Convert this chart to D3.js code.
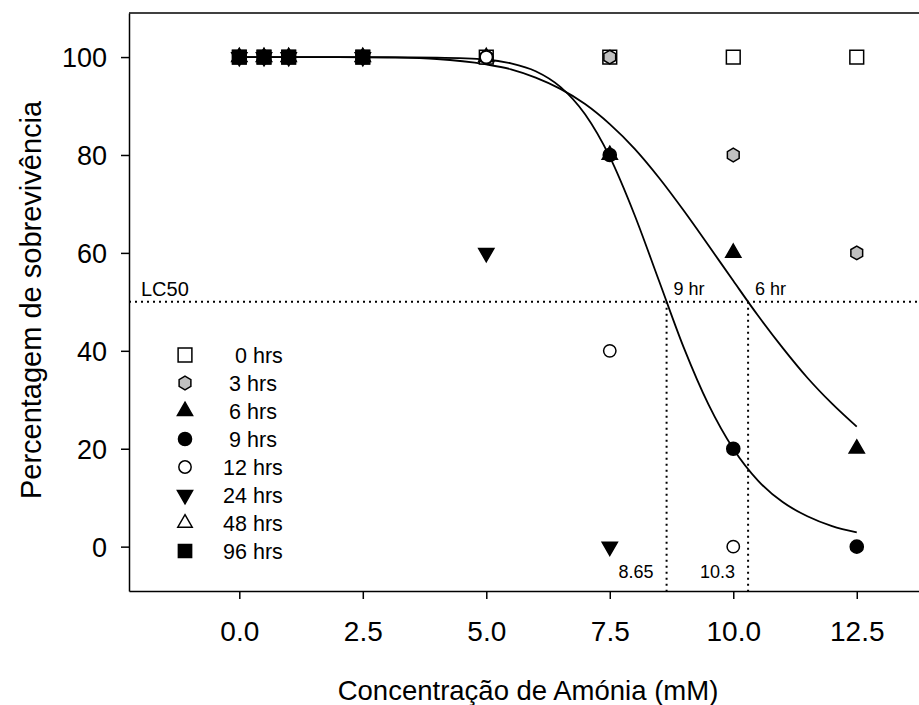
<!DOCTYPE html>
<html>
<head>
<meta charset="utf-8">
<script src="https://cdn.jsdelivr.net/npm/d3@7"></script>
<style>
  html, body { margin: 0; padding: 0; background: #fff; }
  svg { display: block; font-family: "Liberation Sans", Arial, sans-serif; }
</style>
</head>
<body>
<svg id="chart" width="919" height="705"></svg>
<script>
// ---------- data ----------
const xTicks = [0, 2.5, 5, 7.5, 10, 12.5];
const yTicks = [0, 20, 40, 60, 80, 100];
const seriesNames = ["0 hrs", "3 hrs", "6 hrs", "9 hrs", "12 hrs", "24 hrs", "48 hrs", "96 hrs"];

const conc0  = [0, 0.5, 1, 2.5, 5, 7.5, 10, 12.5];
const surv0  = [100, 100, 100, 100, 100, 100, 100, 100];
const conc3  = [0, 0.5, 1, 2.5, 5, 7.5, 10, 12.5];
const surv3  = [100, 100, 100, 100, 100, 100, 80, 60];
const conc6  = [0, 0.5, 1, 2.5, 5, 7.5, 10, 12.5];
const surv6  = [100, 100, 100, 100, 100, 80, 60, 20];
const conc9  = [0, 0.5, 1, 2.5, 5, 7.5, 10, 12.5];
const surv9  = [100, 100, 100, 100, 100, 80, 20, 0];
const conc12 = [0, 0.5, 1, 2.5, 5, 7.5, 10];
const surv12 = [100, 100, 100, 100, 100, 40, 0];
const conc24 = [0, 0.5, 1, 2.5, 5, 7.5];
const surv24 = [100, 100, 100, 100, 60, 0];
const conc48 = [0, 0.5, 1, 2.5];
const surv48 = [100, 100, 100, 100];
const conc96 = [0, 0.5, 1, 2.5];
const surv96 = [100, 100, 100, 100];

// fitted curves
const fitConc = [0, 2, 3, 4, 5, 5.5, 6, 6.5, 7, 7.5, 8, 8.5, 9, 9.5, 10, 10.5, 11, 11.5, 12, 12.5];
const fit9hr  = [100, 100, 100, 99.9, 99.5, 98.7, 97.1, 93.9, 88.3, 79.6, 67.8, 54.2, 40.6, 29.0, 20.0, 13.5, 9.1, 6.2, 4.2, 2.9];
const fit6hr  = [100, 100, 99.9, 99.6, 98.5, 97.5, 95.8, 93.5, 90.4, 86.3, 81.3, 75.3, 68.6, 61.5, 54.3, 47.2, 40.6, 34.5, 29.2, 24.5];

const lc50Value = 50;
const lc50Conc = [8.65, 10.3];
const lc50ConcLabels = ["8.65", "10.3"];
const lc50CurveLabels = ["9 hr", "6 hr"];

// ---------- layout ----------
const svg = d3.select("#chart");
const L = 129, R = 919, T = 13, B = 591;
const x = d3.scaleLinear().domain([-2.233, 13.76]).range([L, R]);
const y = d3.scaleLinear().domain([-9.06, 109.0]).range([B, T]);

// hexagon symbol (pointy top)
const symbolHexagon = {
  draw(ctx, size) {
    const r = Math.sqrt(size / (1.5 * Math.sqrt(3)));
    for (let i = 0; i < 6; i++) {
      const a = -Math.PI / 2 + i * Math.PI / 3;
      const px = r * Math.cos(a), py = r * Math.sin(a);
      if (i === 0) ctx.moveTo(px, py); else ctx.lineTo(px, py);
    }
    ctx.closePath();
  }
};
const symbolTriDown = {
  draw(ctx, size) {
    const s = Math.sqrt(size / (Math.sqrt(3) / 4));
    const h = s * Math.sqrt(3) / 2;
    ctx.moveTo(0, h * 2 / 3);
    ctx.lineTo(s / 2, -h / 3);
    ctx.lineTo(-s / 2, -h / 3);
    ctx.closePath();
  }
};

const styles = [
  { type: d3.symbolSquare,   size: 190, fill: "#fff" },
  { type: symbolHexagon,     size: 120, fill: "#c0c0c0" },
  { type: d3.symbolTriangle, size: 100, fill: "#000" },
  { type: d3.symbolCircle,   size: 135, fill: "#000" },
  { type: d3.symbolCircle,   size: 120, fill: "#fff" },
  { type: symbolTriDown,     size: 100, fill: "#000" },
  { type: d3.symbolTriangle, size: 90,  fill: "#fff" },
  { type: d3.symbolSquare,   size: 175, fill: "#000" }
];
const seriesData = [
  [conc0, surv0], [conc3, surv3], [conc6, surv6], [conc9, surv9],
  [conc12, surv12], [conc24, surv24], [conc48, surv48], [conc96, surv96]
];

// top frame line
svg.append("line").attr("x1", L).attr("x2", R).attr("y1", T).attr("y2", T)
  .attr("stroke", "#000").attr("stroke-width", 1.5);

// axes
const xAxis = d3.axisBottom(x).tickValues(xTicks).tickFormat(d3.format(".1f"))
  .tickSizeInner(8).tickSizeOuter(0).tickPadding(22);
const yAxis = d3.axisLeft(y).tickValues(yTicks).tickFormat(d3.format("d"))
  .tickSizeInner(8).tickSizeOuter(0).tickPadding(14);

const gx = svg.append("g").attr("transform", `translate(0,${B})`).call(xAxis);
const gy = svg.append("g").attr("transform", `translate(${L},0)`).call(yAxis);
[gx, gy].forEach(g => {
  g.select(".domain").attr("stroke", "#000").attr("stroke-width", 1.5);
  g.selectAll(".tick line").attr("stroke", "#000").attr("stroke-width", 1.5);
  g.selectAll(".tick text").attr("fill", "#000").attr("font-family", "Liberation Sans, Arial, sans-serif");
});
gx.selectAll(".tick text").attr("font-size", 28);
gy.selectAll(".tick text").attr("font-size", 27).attr("dy", "0.35em");

// axis titles
svg.append("text").attr("x", 528).attr("y", 700)
  .attr("text-anchor", "middle").attr("font-size", 27.5).text("Concentração de Amónia (mM)");
svg.append("text").attr("transform", `translate(41,300) rotate(-90)`)
  .attr("text-anchor", "middle").attr("font-size", 29).text("Percentagem de sobrevivência");

// LC50 reference lines
const dotted = sel => sel.attr("stroke", "#000").attr("stroke-width", 2).attr("stroke-dasharray", "2,4").attr("fill", "none");
svg.append("line").attr("x1", L).attr("x2", R).attr("y1", y(lc50Value)).attr("y2", y(lc50Value)).call(dotted);
lc50Conc.forEach(c => {
  svg.append("line").attr("x1", x(c)).attr("x2", x(c)).attr("y1", y(lc50Value)).attr("y2", B).call(dotted);
});
svg.append("text").attr("x", 141).attr("y", y(lc50Value) - 6).attr("font-size", 20).text("LC50");
lc50Conc.forEach((c, i) => {
  svg.append("text").attr("x", x(c) + 7).attr("y", y(lc50Value) - 7).attr("font-size", 18).text(lc50CurveLabels[i]);
  svg.append("text").attr("x", x(c) - 13).attr("y", B - 13).attr("text-anchor", "end").attr("font-size", 18).text(lc50ConcLabels[i]);
});

// fitted curves
const line = d3.line().x(d => x(d[0])).y(d => y(d[1])).curve(d3.curveMonotoneX);
[fit9hr, fit6hr].forEach(fit => {
  svg.append("path").datum(fitConc.map((c, i) => [c, fit[i]]))
    .attr("d", line).attr("fill", "none").attr("stroke", "#000").attr("stroke-width", 1.8);
});

// markers
seriesData.forEach(([cs, vs], si) => {
  const st = styles[si];
  const sym = d3.symbol().type(st.type).size(st.size);
  svg.append("g").selectAll("path").data(cs.map((c, i) => [c, vs[i]])).join("path")
    .attr("transform", d => `translate(${x(d[0])},${y(d[1])})`)
    .attr("d", sym).attr("fill", st.fill).attr("stroke", "#000").attr("stroke-width", 1.5);
});

// legend
const legX = 185, legY0 = 355, legDy = 28;
const legLabels = seriesNames.map(n => n === "0 hrs" ? "\u00A0\u00A00 hrs" : n);
seriesNames.forEach((n, i) => {
  const st = styles[i];
  const yy = legY0 + i * legDy;
  svg.append("path").attr("transform", `translate(${legX},${yy})`)
    .attr("d", d3.symbol().type(st.type).size(st.size)()).attr("fill", st.fill).attr("stroke", "#000").attr("stroke-width", 1.5);
  svg.append("text").attr("x", 253).attr("y", yy).attr("dy", "0.36em").attr("text-anchor", "middle")
    .attr("font-size", 21.5).text(legLabels[i]);
});
</script>
</body>
</html>
